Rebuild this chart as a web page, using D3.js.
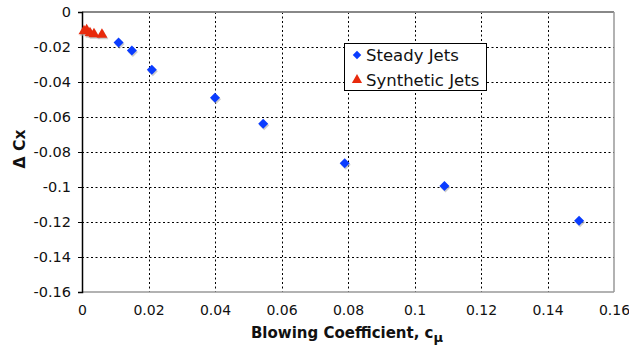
<!DOCTYPE html>
<html><head><meta charset="utf-8">
<script src="https://cdn.jsdelivr.net/npm/d3@7"></script>
<style>
body{margin:0;background:#fff;}
text{font-family:"DejaVu Sans",Verdana,sans-serif;}
</style></head>
<body><svg id="c" width="629" height="345"></svg>
<script>
const steadyX = [0.011, 0.015, 0.021, 0.04, 0.0545, 0.079, 0.109, 0.1495];
const steadyY = [-0.0175, -0.022, -0.033, -0.049, -0.0638, -0.0865, -0.0994, -0.1193];
const synthX = [0.0006, 0.0014, 0.0024, 0.0036, 0.006];
const synthY = [-0.0109, -0.0103, -0.012, -0.0126, -0.0129];
const xTicks = [0, 0.02, 0.04, 0.06, 0.08, 0.1, 0.12, 0.14, 0.16];
const yTicks = [0, -0.02, -0.04, -0.06, -0.08, -0.1, -0.12, -0.14, -0.16];
const seriesNames = ["Steady Jets", "Synthetic Jets"];

const W = 629, H = 345, m = {l:82, t:12, r:15, b:53};
const svg = d3.select("#c");
const x = d3.scaleLinear().domain([0, 0.16]).range([m.l, W - m.r]);
const y = d3.scaleLinear().domain([-0.16, 0]).range([H - m.b, m.t]);
const fmt = d => d === 0 ? "0" : String(d);

// grid
const g = svg.append("g");
g.selectAll("line.vg").data(xTicks.slice(1, -1)).join("line")
  .attr("x1", d => Math.round(x(d)) + 0.5).attr("x2", d => Math.round(x(d)) + 0.5)
  .attr("y1", y(0)).attr("y2", y(-0.16))
  .attr("stroke", "#000").attr("stroke-dasharray", "2,2.5");
g.selectAll("line.hg").data(yTicks.slice(1, -1)).join("line")
  .attr("y1", d => Math.round(y(d)) + 0.5).attr("y2", d => Math.round(y(d)) + 0.5)
  .attr("x1", x(0)).attr("x2", x(0.16))
  .attr("stroke", "#000").attr("stroke-dasharray", "2,2.5");

// frame
svg.append("line").attr("x1", x(0)).attr("x2", x(0.16)).attr("y1", y(0)).attr("y2", y(0))
  .attr("stroke", "#888").attr("stroke-width", 2);
svg.append("line").attr("x1", x(0.16)).attr("x2", x(0.16)).attr("y1", y(0)).attr("y2", y(-0.16))
  .attr("stroke", "#999").attr("stroke-width", 1.5);
svg.append("line").attr("x1", x(0)).attr("x2", x(0.16)).attr("y1", y(-0.16)).attr("y2", y(-0.16))
  .attr("stroke", "#999").attr("stroke-width", 1.5);

// y axis
const ya = svg.append("g").attr("transform", `translate(${x(0)},0)`)
  .call(d3.axisLeft(y).tickValues(yTicks).tickFormat(fmt).tickSize(4).tickPadding(7));
ya.select(".domain").attr("stroke", "#000").attr("stroke-width", 1.5);
ya.selectAll("text").attr("font-size", 14.5).attr("fill", "#111")
  .style("font-family", '"DejaVu Sans",Verdana,sans-serif');

// x axis
const xa = svg.append("g").attr("transform", `translate(0,${y(-0.16)})`)
  .call(d3.axisBottom(x).tickValues(xTicks).tickFormat(fmt).tickSize(0).tickPadding(13));
xa.select(".domain").remove();
xa.selectAll("text").attr("font-size", 14).attr("fill", "#111")
  .style("font-family", '"DejaVu Sans",Verdana,sans-serif');

// titles
const xt = svg.append("text").attr("x", 347).attr("y", 338).attr("text-anchor", "middle")
  .attr("font-size", 15).attr("font-weight", "bold").attr("fill", "#111");
xt.append("tspan").text("Blowing Coefficient, c");
xt.append("tspan").attr("dy", 4).attr("font-size", 13).text("μ");

svg.append("text").attr("transform", "translate(25,149) rotate(-90)").attr("text-anchor", "middle")
  .attr("font-size", 15.5).attr("font-weight", "bold").attr("fill", "#111").text("Δ Cx");

// markers
const diamond = d3.symbol().type(d3.symbolSquare).size(50);
const tri = d3.symbol().type(d3.symbolTriangle).size(52);
const steady = steadyX.map((v, i) => [v, steadyY[i]]);
const synth = synthX.map((v, i) => [v, synthY[i]]);

svg.append("g").selectAll("path").data(steady).join("path")
  .attr("d", diamond).attr("transform", d => `translate(${x(d[0]) + 1},${y(d[1]) + 1.5}) rotate(45)`)
  .attr("fill", "#aaa").attr("opacity", 0.6);
svg.append("g").selectAll("path").data(steady).join("path")
  .attr("d", diamond).attr("transform", d => `translate(${x(d[0])},${y(d[1])}) rotate(45)`)
  .attr("fill", "#0a3cff");
svg.append("g").selectAll("path").data(synth).join("path")
  .attr("d", tri).attr("transform", d => `translate(${x(d[0]) + 1},${y(d[1]) + 1.5})`)
  .attr("fill", "#aaa").attr("opacity", 0.6);
svg.append("g").selectAll("path").data(synth).join("path")
  .attr("d", tri).attr("transform", d => `translate(${x(d[0])},${y(d[1])})`)
  .attr("fill", "#e82a0c");

// legend
const lg = svg.append("g");
lg.append("rect").attr("x", 344.5).attr("y", 43.5).attr("width", 142).attr("height", 47)
  .attr("fill", "#fff").attr("stroke", "#000").attr("stroke-width", 1);
lg.append("path").attr("d", d3.symbol().type(d3.symbolSquare).size(36))
  .attr("transform", "translate(357,55) rotate(45)").attr("fill", "#0a3cff");
lg.append("path").attr("d", d3.symbol().type(d3.symbolTriangle).size(45))
  .attr("transform", "translate(357,80)").attr("fill", "#e82a0c");
lg.selectAll("text").data(seriesNames).join("text")
  .attr("x", 366).attr("y", (d, i) => 60.5 + i * 25)
  .attr("font-size", 16.5).attr("fill", "#111").text(d => d);
</script></body></html>
